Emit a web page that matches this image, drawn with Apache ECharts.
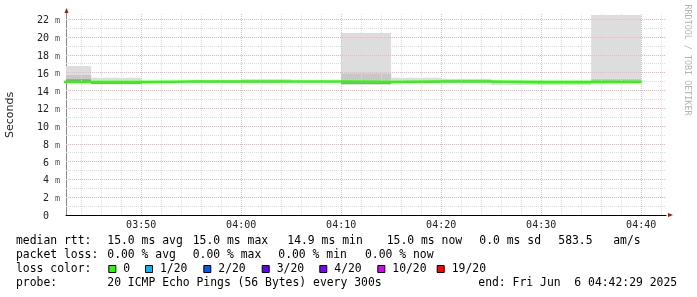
<!DOCTYPE html>
<html><head><meta charset="utf-8">
<script src="https://cdn.jsdelivr.net/npm/echarts@6/dist/echarts.min.js"></script>
<style>html,body{margin:0;padding:0;background:#fff}#c{width:697px;height:297px}</style>
</head><body><div id="c"></div>
<script>
// ---- data ----
const chartStart = '03:42:29';
const chartEnd = '04:42:29';
const stepMinutes = 5;
const intervalStarts = ['03:40','03:45','03:50','03:55','04:00','04:05','04:10','04:15','04:20','04:25','04:30','04:35'];
const medianRtt = [14.95,14.93,15.0,15.0,15.0,15.0,14.95,15.0,15.0,14.93,14.93,14.95];
const smokeMax  = [16.74,15.42,15.05,15.17,15.28,15.05,20.45,15.42,15.31,15.08,15.08,22.47];
const smokeMin  = [14.80,14.75,14.92,14.85,14.85,14.90,14.70,14.75,14.90,14.60,14.60,14.90];
const midHi     = [15.73,15.00,15.00,15.05,15.10,15.00,15.90,15.10,15.20,15.00,15.00,15.28];
const midLo     = [14.85,14.75,14.95,14.90,14.90,14.95,14.78,14.85,14.92,14.80,14.80,14.92];
const coreHi    = [15.25,14.95,15.00,15.00,15.00,15.00,14.95,15.00,15.10,14.95,14.95,15.10];
const coreLo    = [14.95,14.72,14.95,14.95,14.95,14.95,14.70,14.90,14.95,14.90,14.90,14.95];
const xTickLabels = ['03:50','04:00','04:10','04:20','04:30','04:40'];
const yTicks = [0,2,4,6,8,10,12,14,16,18,20,22];
const yMax = 22.7;
const lossLabels = ['0','1/20','2/20','3/20','4/20','10/20','19/20'];
const lossColors = ['#26ff00','#00b8ff','#0059ff','#5e00ff','#7e00ff','#dd00ff','#ff0000'];
const statsRtt = ['15.0 ms avg','15.0 ms max','14.9 ms min','15.0 ms now','0.0 ms sd','583.5   am/s'];
const statsLoss = ['0.00 % avg','0.00 % max','0.00 % min','0.00 % now'];
const probeText = '20 ICMP Echo Pings (56 Bytes) every 300s';
const endText = 'end: Fri Jun  6 04:42:29 2025';

// ---- helpers ----
function toMin(s){ const p = s.split(':').map(Number); return p[0]*60 + p[1] + (p[2]||0)/60; }
function fmtMin(v){ const h = Math.floor(v/60), m = Math.round(v - h*60); return String(h).padStart(2,'0')+':'+String(m).padStart(2,'0'); }
const xMin = toMin(chartStart), xMax = toMin(chartEnd);
const xMajor = xTickLabels.map(toMin);
const xMinor = [];
for (let t = Math.ceil(xMin/2)*2; t <= xMax; t += 2) if (xMajor.indexOf(t) < 0) xMinor.push(t);
const yMinor = [];
for (let v = 1; v < yMax; v += 2) yMinor.push(v);

const smokeData = intervalStarts.map((s,i)=>{
  const t0 = toMin(s), t1 = t0 + stepMinutes;
  return [t0, t1, smokeMin[i], smokeMax[i], midLo[i], midHi[i], coreLo[i], coreHi[i]];
});
const medianData = intervalStarts.map((s,i)=>[toMin(s), medianRtt[i]]);
medianData.push([toMin(intervalStarts[intervalStarts.length-1]) + stepMinutes, medianRtt[medianRtt.length-1]]);

const majorStyle = {color:'#eab8b8', width:1, type:[1,1]};
const minorStyle = {color:'#dcdcdc', width:1, type:[1,1]};
const gridLines = []
  .concat(xMinor.map(v=>({xAxis:v, lineStyle:minorStyle})))
  .concat(yMinor.map(v=>({yAxis:v, lineStyle:minorStyle})))
  .concat(xMajor.map(v=>({xAxis:v, lineStyle:majorStyle})))
  .concat(yTicks.filter(v=>v>0).map(v=>({yAxis:v, lineStyle:majorStyle})));

const mono = 'DejaVu Sans Mono';
const txtFont = 11.4;
const graphics = [];
function addText(x, y, text, extra){
  graphics.push(Object.assign({type:'text', x:x, y:y, silent:true,
    style:{text:text, fill:'#000', font: txtFont+'px "'+mono+'"', verticalAlign:'middle', align:'left'}}, extra||{}));
}
const rowY = [240.6, 254.9, 269.3, 283.3];
const rttX = [107.3,192.7,287.3,386.7,479.3,558.3];
const lossX = [107.3,192.7,278.3,365];
const swatchX = [108.3,145,203.3,261.7,319.3,377.3,436.7];
addText(16,rowY[0],'median rtt:');
statsRtt.forEach((s,i)=>addText(rttX[i],rowY[0],s));
addText(16,rowY[1],'packet loss:');
statsLoss.forEach((s,i)=>addText(lossX[i],rowY[1],s));
addText(16,rowY[2],'loss color:');
lossLabels.forEach((s,i)=>{
  graphics.push({type:'rect', silent:true, shape:{x:swatchX[i]+0.5, y:265.5, width:7, height:7},
    style:{fill:lossColors[i], stroke:'#000', lineWidth:1}});
  addText(swatchX[i]+15, rowY[2], s);
});
addText(16,rowY[3],'probe:');
addText(107.3,rowY[3],probeText);
addText(478.3,rowY[3],endText);
graphics.push({type:'text', x:10, y:115, rotation:Math.PI/2, silent:true,
  style:{text:'Seconds', fill:'#222', font:'11px "DejaVu Sans"', align:'center', verticalAlign:'middle'}});
graphics.push({type:'text', x:687.5, y:60, rotation:-Math.PI/2, silent:true,
  style:{text:'RRDTOOL / TOBI OETIKER', fill:'#b4b4b4', font:'8.4px "'+mono+'"', align:'center', verticalAlign:'middle'}});

const chart = echarts.init(document.getElementById('c'), null, {renderer:'canvas'});
chart.setOption({
  animation:false,
  backgroundColor:'#fff',
  grid:{left:66, top:13, width:600, height:202, containLabel:false},
  xAxis:{type:'value', min:xMin, max:xMax,
    axisLine:{show:true, lineStyle:{color:'#000', width:1}},
    axisTick:{show:false},
    splitLine:{show:false},
    axisLabel:{customValues:xMajor, formatter:v=>fmtMin(v), color:'#222', fontFamily:mono, fontSize:10, margin:5}},
  yAxis:{type:'value', min:0, max:yMax, interval:2,
    axisLine:{show:true, lineStyle:{color:'#888', width:1}},
    axisTick:{show:false},
    splitLine:{show:false},
    axisLabel:{margin:6, padding:[3,0,0,0],
      formatter:v=>{ if (yTicks.indexOf(v) < 0) return ''; return v===0 ? '{n|0}{u| }' : '{n|'+v+'}{u|m}'; },
      rich:{n:{fontFamily:mono, fontSize:10, color:'#222'}, u:{fontFamily:mono, fontSize:8.5, color:'#555', width:11, align:'right'}}}},
  series:[
    {type:'custom', z:1, clip:true, silent:true, data:smokeData,
     renderItem:(params, api)=>{
       const layers = [[2,3,'#dddddd'],[4,5,'#c8c8c8'],[6,7,'#9a9a9a']];
       return {type:'group', children: layers.map(L=>{
         const p1 = api.coord([api.value(0), api.value(L[1])]);
         const p2 = api.coord([api.value(1), api.value(L[0])]);
         return {type:'rect', shape:{x:p1[0], y:p1[1], width:p2[0]-p1[0], height:p2[1]-p1[1]}, style:{fill:L[2]}};
       })};
     }},
    {type:'line', z:4, step:'end', data:medianData, symbol:'none', silent:true, clip:true,
     lineStyle:{color:lossColors[0], width:2.6},
     markLine:{silent:true, z:2, symbol:'none', animation:false, label:{show:false}, emphasis:{disabled:true}, data:gridLines},
     markPoint:{silent:true, z:6, animation:false, label:{show:false}, itemStyle:{color:'#a01818'},
       data:[
         {coord:[xMax,0], symbol:'triangle', symbolSize:[4,5], symbolRotate:-90, symbolOffset:[4.5,0]},
         {coord:[xMin,yMax], symbol:'triangle', symbolSize:[4,5], symbolOffset:[0.5,-2.5]}
       ]}}
  ],
  graphic:graphics
});
</script></body></html>
